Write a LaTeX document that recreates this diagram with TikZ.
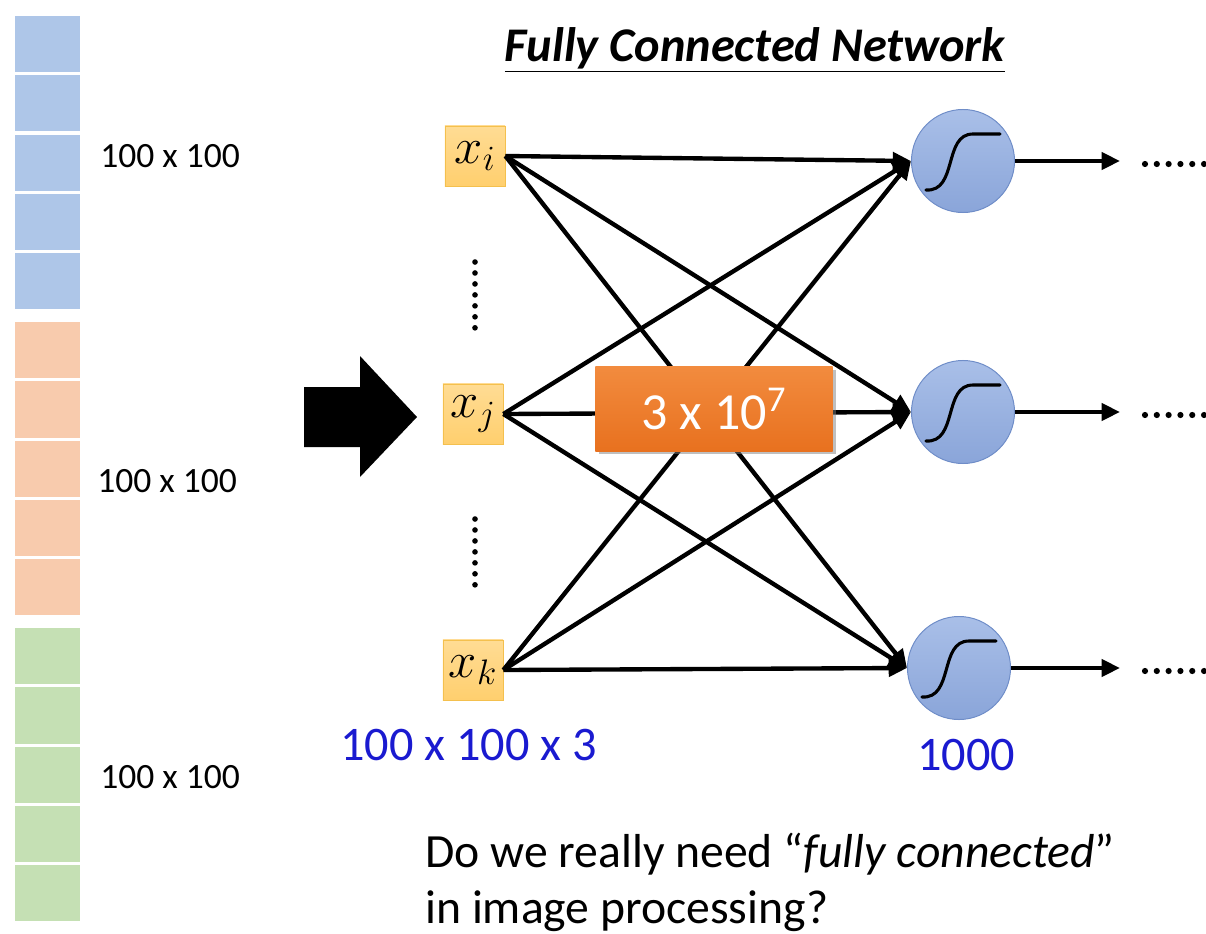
\documentclass[tikz,border=0pt]{standalone}
\usepackage{fix-cm}
\usepackage{fontspec}
\setmainfont{Carlito}
\usetikzlibrary{arrows.meta,shadows}
\definecolor{pixblue}{HTML}{AEC6E8}
\definecolor{pixorange}{HTML}{F8CBAD}
\definecolor{pixgreen}{HTML}{C5E0B4}
\definecolor{inputtop}{HTML}{FFDC94}
\definecolor{inputbot}{HTML}{FFCF6E}
\definecolor{inputdraw}{HTML}{F4C04E}
\definecolor{neurontop}{HTML}{A9BFE8}
\definecolor{neuronbot}{HTML}{8AA5D9}
\definecolor{neurondraw}{HTML}{6F8DC8}
\definecolor{paramtop}{HTML}{F28B3E}
\definecolor{parambot}{HTML}{E8711F}
\definecolor{sizeblue}{HTML}{1A1AD0}
\tikzset{
  pixel/.style={minimum width=1.625cm, minimum height=1.4cm, inner sep=0pt, anchor=north west},
  input/.style={draw=inputdraw, top color=inputtop, bottom color=inputbot, line width=0.5pt,
                minimum size=1.5cm, inner sep=0pt, font=\fontsize{36}{42}\selectfont},
  neuron/.style={circle, draw=neurondraw, top color=neurontop, bottom color=neuronbot,
                 line width=0.7pt, minimum size=2.575cm, inner sep=0pt},
  param/.style={top color=paramtop, bottom color=parambot, text=white, drop shadow,
                minimum width=5.925cm, minimum height=2.1cm, font=\fontsize{37}{44}\selectfont},
  link/.style={line width=3.1pt, -{Triangle[length=13pt,width=12pt]}},
  sig/.style={line width=2.2pt, line cap=round},
  vdots/.style={line width=4pt, line cap=round, dash pattern=on 0pt off 7.8pt},
  hdots/.style={line width=4.4pt, line cap=round, dash pattern=on 0pt off 8.4pt},
  sizelabel/.style={font=\fontsize{25.3}{30}\selectfont, anchor=base west, inner sep=0pt},
  bluelabel/.style={font=\fontsize{34.3}{40}\selectfont, text=sizeblue, anchor=base west, inner sep=0pt},
  question/.style={font=\fontsize{33.9}{40}\selectfont, anchor=base west, inner sep=0pt},
}
\begin{document}
\begin{tikzpicture}[x=0.025cm, y=-0.025cm]
    \useasboundingbox (0,0) rectangle (1206,934);
    % image stacked as columns of pixels
    \foreach \c [count=\k from 0] in {pixblue,pixorange,pixgreen}
      \foreach \i in {0,...,4}
        \node[pixel, fill=\c] (p\k\i) at (15, {16+306*\k+59.2*\i}) {};
    \node[sizelabel] (s1) at (100,167) {100 x 100};
    \node[sizelabel] (s2) at (97,492) {100 x 100};
    \node[sizelabel] (s3) at (100,788) {100 x 100};
    \fill (304,387) -- (360,387) -- (360,356) -- (417,417) -- (360,477) -- (360,447) -- (304,447) -- cycle;

    \node[font=\fontsize{34.4}{40}\selectfont\bfseries\itshape] (title) at (755,50) {\underline{Fully Connected Network}};

    \node[input] (xi) at (475,156) {$x_i$};
    \node[input] (xj) at (473,414) {$x_j$};
    \node[input] (xk) at (473,670) {$x_k$};
    \coordinate (d1) at (475,262);
    \coordinate (d2) at (475,328);
    \coordinate (d3) at (475,519);
    \coordinate (d4) at (475,585);
    \draw[vdots] (d1) -- (d2);
    \draw[vdots] (d3) -- (d4);

    \node[neuron] (h1) at (963,161) {};
    \node[neuron] (h2) at (963,412) {};
    \node[neuron] (h3) at (959,668) {};
    \foreach \n in {h1,h2,h3}
      \draw[sig, shift={(\n.center)}] (-37,29) .. controls (-5,31) and (-20,-27) .. (10,-27) -- (37,-27);

    % every input to every neuron
    \foreach \a in {xi,xj,xk}
      \foreach \b in {h1,h2,h3}
        \draw[link] (\a.east) -- (\b.west);

    \node[param] (w) at (714,409) {3 x 10\textsuperscript{7}};

    \foreach \n/\y in {h1/161,h2/412,h3/668} {
      \coordinate (o\n) at (1120,\y);
      \draw[link] (\n.east) -- (o\n);
      \coordinate (a\n) at (1145,{\y+3});
      \coordinate (b\n) at (1215,{\y+3});
      \draw[hdots] (a\n) -- (b\n);
    }

    \node[bluelabel] (insize) at (340,760) {100 x 100 x 3};
    \node[bluelabel] (outsize) at (917,770) {1000};

    \node[question] (q1) at (425,867) {Do we really need “\textit{fully connected}”};
    \node[question] (q2) at (425,923) {in image processing?};
  \end{tikzpicture}
\end{document}
